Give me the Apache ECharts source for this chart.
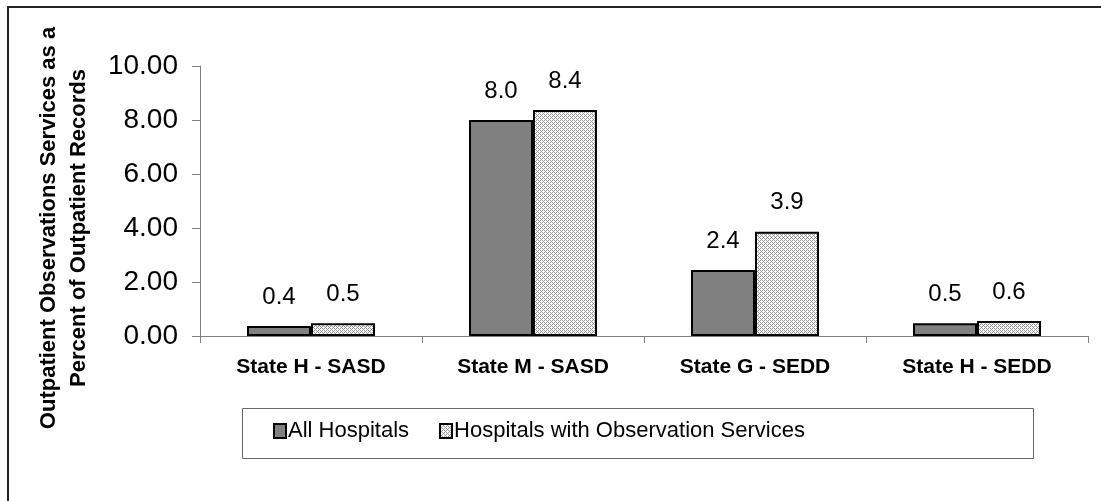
<!DOCTYPE html>
<html>
<head>
<meta charset="utf-8">
<script src="https://cdn.jsdelivr.net/npm/echarts@6/dist/echarts.min.js"></script>
<style>html,body{margin:0;padding:0;background:#fff}#c{width:1101px;height:501px}</style>
</head>
<body>
<div id="c"></div>
<script>
var categories = ['State H - SASD', 'State M - SASD', 'State G - SEDD', 'State H - SEDD'];
var allHospitals = [0.37, 8.0, 2.44, 0.47];
var obsHospitals = [0.47, 8.37, 3.86, 0.56];
var seriesNames = ['All Hospitals', 'Hospitals with Observation Services'];
var yTicks = { min: 0, max: 10, interval: 2 };
var yTitle = 'Outpatient Observations Services as a\nPercent of Outpatient Records';

var pc = document.createElement('canvas');
pc.width = 4; pc.height = 4;
var pctx = pc.getContext('2d');
pctx.fillStyle = '#ffffff';
pctx.fillRect(0, 0, 4, 4);
pctx.fillStyle = '#959595';
for (var y = 0; y < 4; y++) {
  for (var x = 0; x < 4; x++) {
    var d = (x + y) % 4;
    if (d === 0 || (d === 2 && x % 2 === 0)) pctx.fillRect(x, y, 1, 1);
  }
}
var hatch = { image: pc, repeat: 'repeat' };

var FONT = '"Liberation Sans", Arial, sans-serif';
var chart = echarts.init(document.getElementById('c'), null, { renderer: 'canvas' });
chart.setOption({
  animation: false,
  backgroundColor: '#ffffff',
  textStyle: { fontFamily: FONT, color: '#000' },
  grid: { left: 200, right: 13, top: 66, bottom: 165, containLabel: false },
  graphic: [
    { type: 'rect', shape: { x: 8, y: 7, width: 1200, height: 600 }, style: { fill: 'transparent', stroke: '#222', lineWidth: 2 }, silent: true },
    { type: 'rect', shape: { x: 242.5, y: 408.5, width: 791, height: 50 }, style: { fill: 'transparent', stroke: '#666', lineWidth: 1 }, silent: true },
    { type: 'text', x: 64, y: 228, rotation: Math.PI / 2,
      style: { text: yTitle, font: 'bold 22px ' + FONT, fill: '#000', textAlign: 'center', textVerticalAlign: 'middle', lineHeight: 30 } }
  ],
  legend: {
    left: 273, top: 420, padding: 0,
    icon: 'rect',
    itemWidth: 12, itemHeight: 14, itemGap: 30,
    textStyle: { fontSize: 22, fontFamily: '"Liberation Sans Narrow", "Arial Narrow", ' + FONT, color: '#000', padding: [0, 0, 0, -3] },
    data: seriesNames
  },
  xAxis: {
    type: 'category', data: categories,
    axisLine: { lineStyle: { color: '#808080', width: 1 } },
    axisTick: { show: true, length: 7, lineStyle: { color: '#808080' } },
    axisLabel: { fontSize: 21, fontWeight: 'bold', color: '#000', margin: 21, fontFamily: FONT }
  },
  yAxis: {
    type: 'value', min: yTicks.min, max: yTicks.max, interval: yTicks.interval,
    splitLine: { show: false },
    axisLine: { show: true, lineStyle: { color: '#808080', width: 1 } },
    axisTick: { show: true, length: 8, lineStyle: { color: '#808080' } },
    axisLabel: { fontSize: 28, color: '#000', margin: 22, fontFamily: FONT, formatter: function (v) { return v.toFixed(2); } }
  },
  series: [
    { name: seriesNames[0], type: 'bar', data: allHospitals, barWidth: 64, barGap: '0%',
      itemStyle: { color: '#808080', borderColor: '#000', borderWidth: 2 },
      label: { show: true, position: 'top', distance: 17, fontSize: 24, color: '#000', fontFamily: FONT, formatter: function (p) { return p.value.toFixed(1); } } },
    { name: seriesNames[1], type: 'bar', data: obsHospitals, barWidth: 64, barGap: '0%',
      itemStyle: { color: hatch, borderColor: '#000', borderWidth: 2 },
      label: { show: true, position: 'top', distance: 17, fontSize: 24, color: '#000', fontFamily: FONT, formatter: function (p) { return p.value.toFixed(1); } } }
  ]
});
</script>
</body>
</html>
